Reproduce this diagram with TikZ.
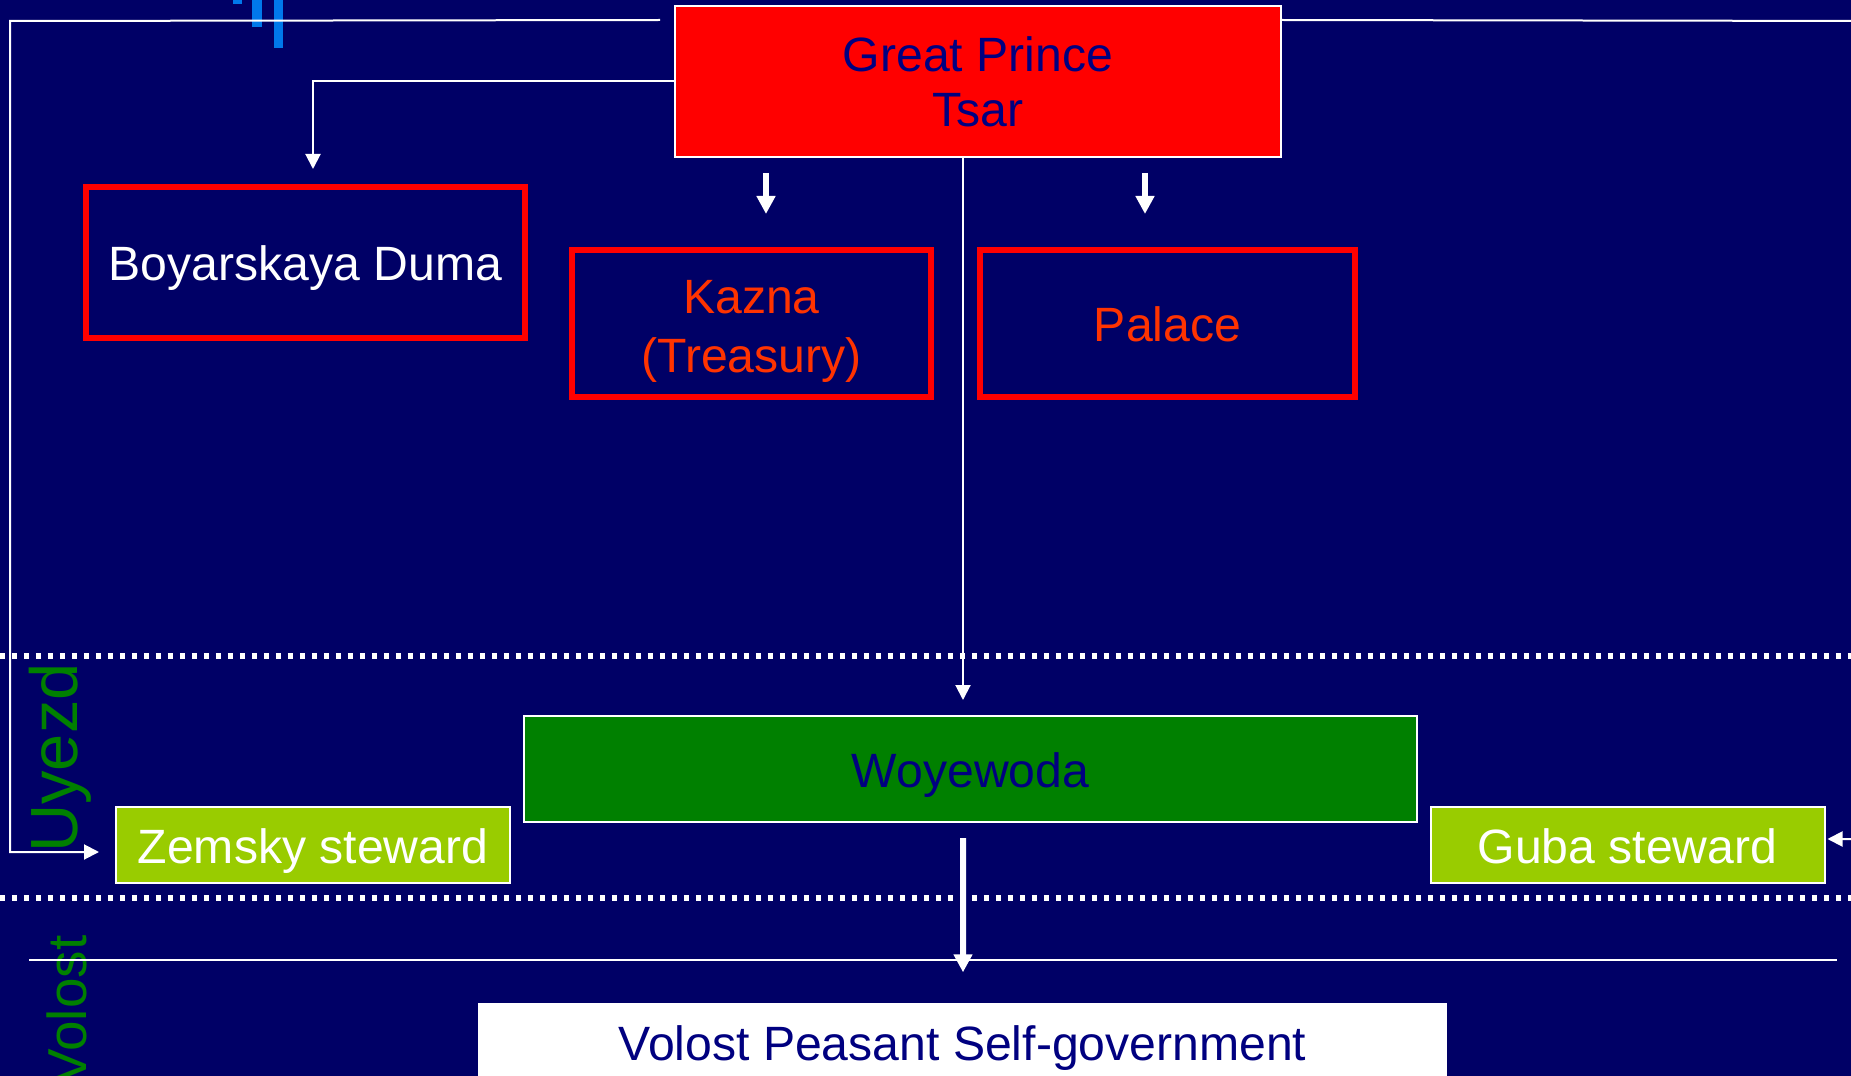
\documentclass[tikz,border=0pt]{standalone}
\usepackage{fontspec}
\setmainfont{Liberation Sans}
\usetikzlibrary{arrows.meta,calc}

\definecolor{bgnavy}{RGB}{0,0,102}
\definecolor{textnavy}{RGB}{0,0,128}
\definecolor{kaznared}{RGB}{255,51,0}
\definecolor{woyegreen}{RGB}{0,128,0}
\definecolor{stewardgreen}{RGB}{153,204,0}
\definecolor{logoblue}{RGB}{0,120,235}

\begin{document}
\begin{tikzpicture}[x=0.1mm, y=-0.1mm]
    % Define styles
    \tikzset{
        boxfont/.style={font=\fontsize{13.7pt}{16.8pt}\selectfont},
        oneline/.style={text height=13.3pt, text depth=2.9pt},
        tsarbox/.style={boxfont, font=\fontsize{13.7pt}{15.7pt}\selectfont, draw=white, fill=red, line width=0.2mm, text=textnavy, minimum width=60.6mm, minimum height=15.1mm, inner sep=0pt, align=center},
        office/.style={boxfont, draw=red, line width=0.6mm, minimum height=14.7mm, inner sep=0pt, align=center},
        woyebox/.style={boxfont, oneline, draw=white, fill=woyegreen, line width=0.2mm, text=textnavy, minimum width=89.3mm, minimum height=10.6mm, inner sep=0pt},
        steward/.style={boxfont, oneline, draw=white, fill=stewardgreen, line width=0.2mm, text=white, minimum width=39.4mm, minimum height=7.6mm, inner sep=0pt},
        volostbox/.style={boxfont, oneline, fill=white, text=textnavy, minimum width=96.9mm, minimum height=7.8mm, inner sep=0pt},
        zonelabel/.style={text=woyegreen, rotate=90, inner sep=0pt},
        thinarrow/.style={draw=white, line width=0.2mm, -{Triangle[width=1.5mm, length=1.5mm]}},
        fatarrow/.style={draw=white, line width=0.6mm, -{Triangle[width=1.8mm, length=1.8mm]}},
        dotline/.style={draw=white, line width=0.6mm, dash pattern=on 0.5mm off 0.7mm},
        plainline/.style={draw=white, line width=0.2mm}
    }

    % Background and frame
    \useasboundingbox (0,0) rectangle (1851,1076);
    \fill[bgnavy] (0,0) rectangle (1851,1076);

    % Logo bars
    \fill[logoblue] (233,-5) rectangle (242,4);
    \fill[logoblue] (252,-5) rectangle (262,27);
    \fill[logoblue] (274,-5) rectangle (283,48);

    % Level borders
    \draw[dotline] (0,656) -- (1851,656);
    \draw[dotline] (0,898) -- (1851,898);

    % Level labels
    \node[zonelabel, font=\fontsize{19pt}{19pt}\selectfont] (uyezd) at (60.5,758) {Uyezd};
    \node[zonelabel, anchor=east, font=\fontsize{15.6pt}{15.6pt}\selectfont] (volostlabel) at (67,935) {Volost};

    \draw[plainline] (29,960) -- (1837,960);

    % Tsar at the top
    \node[tsarbox] (tsar) at (978,81.5) {Great Prince\\Tsar};

    % Central offices
    \node[office, oneline, minimum width=43.9mm, minimum height=15.1mm, text=white] (duma) at (305.5,262.5) {Boyarskaya Duma};
    \node[office, minimum width=35.9mm, text=kaznared] (kazna) at (751.5,323.5) {\rule{0pt}{1em}Kazna\\(Treasury)};
    \node[office, oneline, minimum width=37.5mm, text=kaznared] (palace) at (1167.5,323.5) {Palace};

    % Uyezd level
    \node[woyebox] (woyewoda) at (970.5,769) {Woyewoda};
    \node[steward] (zemsky) at (313,845) {Zemsky steward};
    \node[steward] (guba) at (1627.5,845) {Guba steward};

    % Volost level
    \node[volostbox] (volost) at (962.5,1042) {Volost Peasant Self-government};

    % Arrows from the Tsar
    \coordinate (lcorner) at (10,21);
    \coordinate (rcorner) at (1880,21);
    \draw[thinarrow] (tsar.west) -| ($(duma.north)+(7.5,-15)$);
    \draw[thinarrow] ($(tsar.north west)+(-14,15)$) -- (lcorner) |- ($(zemsky.west)+(-16,7)$);
    \draw[thinarrow] ($(tsar.north east)+(0,15)$) -- (rcorner) |- ($(guba.east)+(2,-6)$);
    \draw[fatarrow] ($(tsar.south -| kazna.north)+(14.5,15)$) -- ($(kazna.north)+(14.5,-33)$);
    \draw[fatarrow] ($(tsar.south -| palace.north)+(-22.5,15)$) -- ($(palace.north)+(-22.5,-33)$);
    \draw[thinarrow] ($(tsar.south)+(-15,0)$) -- ($(woyewoda.north)+(-7.5,-15)$);

    % Arrow down to the volost
    \draw[fatarrow] ($(woyewoda.south)+(-7.5,15)$) -- ($(volost.north)+(0.5,-30)$);
\end{tikzpicture}
\end{document}
